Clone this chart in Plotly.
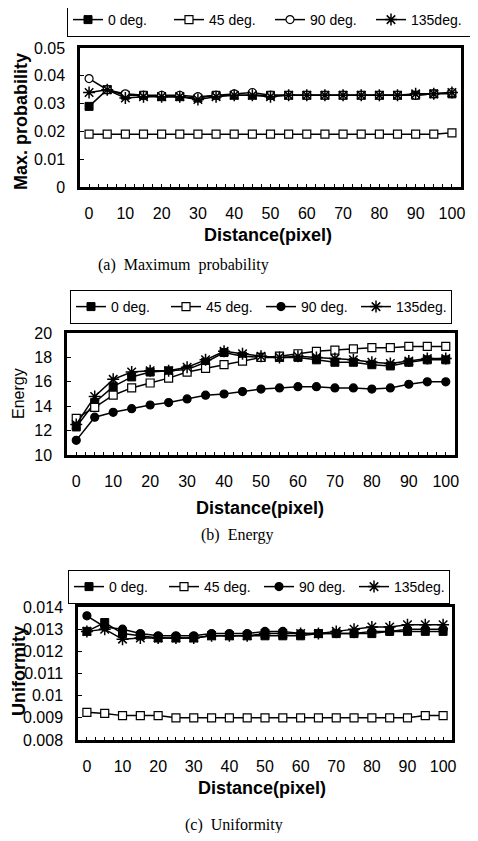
import plotly.graph_objects as go

# ---------------- data ----------------
distance = [0, 5, 10, 15, 20, 25, 30, 35, 40, 45, 50, 55, 60, 65, 70, 75, 80, 85, 90, 95, 100]
series_names = ["0 deg.", "45 deg.", "90 deg.", "135deg."]

maxprob_0 = [0.029, 0.035, 0.033, 0.033, 0.0325, 0.0325, 0.032, 0.033, 0.033, 0.033, 0.033,
             0.033, 0.033, 0.033, 0.033, 0.033, 0.033, 0.033, 0.033, 0.0335, 0.0335]
maxprob_45 = [0.019, 0.019, 0.019, 0.019, 0.019, 0.019, 0.019, 0.019, 0.019, 0.019, 0.019,
              0.019, 0.019, 0.019, 0.019, 0.019, 0.019, 0.019, 0.019, 0.019, 0.0195]
maxprob_90 = [0.039, 0.035, 0.0335, 0.033, 0.033, 0.033, 0.0325, 0.033, 0.0335, 0.034, 0.033,
              0.033, 0.033, 0.033, 0.033, 0.033, 0.033, 0.033, 0.033, 0.0335, 0.034]
maxprob_135 = [0.034, 0.035, 0.032, 0.0325, 0.0325, 0.0325, 0.0315, 0.0325, 0.033, 0.033, 0.0325,
               0.033, 0.033, 0.033, 0.033, 0.033, 0.033, 0.033, 0.0335, 0.0335, 0.034]

energy_0 = [12.3, 14.3, 15.6, 16.4, 16.8, 16.9, 17.0, 17.6, 18.4, 18.1, 18.0,
            18.0, 18.0, 17.8, 17.6, 17.6, 17.4, 17.3, 17.6, 17.8, 17.8]
energy_45 = [13.0, 13.9, 14.9, 15.5, 15.9, 16.3, 16.8, 17.1, 17.4, 17.7, 18.0,
             18.1, 18.3, 18.5, 18.6, 18.7, 18.8, 18.8, 18.9, 18.9, 18.9]
energy_90 = [11.2, 13.1, 13.5, 13.8, 14.1, 14.3, 14.6, 14.9, 15.0, 15.2, 15.4,
             15.5, 15.6, 15.6, 15.5, 15.5, 15.4, 15.5, 15.8, 16.0, 16.0]
energy_135 = [12.5, 14.8, 16.2, 16.8, 16.9, 16.9, 17.2, 17.8, 18.5, 18.3, 18.1,
              18.0, 18.1, 18.0, 17.9, 17.8, 17.6, 17.5, 17.7, 17.9, 17.9]

unif_0 = [0.0129, 0.0133, 0.0128, 0.0127, 0.0126, 0.0126, 0.0126, 0.0127, 0.0127, 0.0127, 0.0127,
          0.0127, 0.0127, 0.0128, 0.0128, 0.0128, 0.0128, 0.0129, 0.0129, 0.0129, 0.0129]
unif_45 = [0.00925, 0.0092, 0.0091, 0.0091, 0.0091, 0.0090, 0.0090, 0.0090, 0.0090, 0.0090, 0.0090,
           0.0090, 0.0090, 0.0090, 0.0090, 0.0090, 0.0090, 0.0090, 0.0090, 0.0091, 0.0091]
unif_90 = [0.0136, 0.0131, 0.0130, 0.0128, 0.0127, 0.0127, 0.0127, 0.0128, 0.0128, 0.0128, 0.0129,
           0.0129, 0.0128, 0.0128, 0.0128, 0.0128, 0.0129, 0.0129, 0.0130, 0.0130, 0.0130]
unif_135 = [0.0129, 0.0130, 0.01255, 0.0126, 0.0126, 0.0126, 0.0126, 0.0127, 0.0127, 0.0127, 0.0128,
            0.0128, 0.0128, 0.0128, 0.0129, 0.0130, 0.0131, 0.0131, 0.0132, 0.0132, 0.0132]

x_ticks = [0, 10, 20, 30, 40, 50, 60, 70, 80, 90, 100]

# page body has an 8px margin: the figure is drawn 8px in from the window corner
OFF = 8
W, H = 478 - 2 * OFF, 841 - 2 * OFF


def px(x):
    return (x - OFF) / W


def py(y):
    return 1 - (y - OFF) / H


panels = [
    dict(series=[maxprob_0, maxprob_45, maxprob_90, maxprob_135], open90=True,
         xdom=[px(80), px(461)], ydom=[py(187), py(48)], yrange=[0, 0.05], dtick=0.01,
         legend=dict(x=px(67), y=py(3), entrywidth=56)),
    dict(series=[energy_0, energy_45, energy_90, energy_135], open90=False,
         xdom=[px(67), px(455)], ydom=[py(455), py(333)], yrange=[10, 20], dtick=2,
         legend=dict(x=px(70), y=py(290), entrywidth=50)),
    dict(series=[unif_0, unif_45, unif_90, unif_135], open90=False,
         xdom=[px(78), px(452)], ydom=[py(740), py(607)], yrange=[0.008, 0.014], dtick=0.001,
         legend=dict(x=px(68), y=py(570), entrywidth=50)),
]

fig = go.Figure()
FONT = "Liberation Sans, Arial, sans-serif"

for i, p in enumerate(panels):
    sfx = "" if i == 0 else str(i + 1)
    leg = "legend" if i == 0 else "legend" + str(i + 1)
    styles = [
        dict(symbol="square", size=8, color="black", line=dict(color="black", width=1)),
        dict(symbol="square", size=8, color="white", line=dict(color="black", width=1.2)),
        dict(symbol="circle", size=8, color="white" if p["open90"] else "black",
             line=dict(color="black", width=1.2)),
        dict(symbol="asterisk-open", size=10, color="black", line=dict(color="black", width=1.5)),
    ]
    for name, vals, st in zip(series_names, p["series"], styles):
        fig.add_trace(go.Scatter(
            x=distance, y=vals, name=name, mode="lines+markers",
            line=dict(color="black", width=1.5), marker=st,
            xaxis="x" + sfx, yaxis="y" + sfx, legend=leg, cliponaxis=False))

    fig.layout["xaxis" + sfx] = dict(
        domain=p["xdom"], anchor="y" + sfx, range=[-2.5, 102.5],
        tickmode="array", tickvals=x_ticks, ticks="inside", ticklen=3, tickwidth=1,
        tickcolor="black", minor=dict(dtick=2.5, tick0=0, ticks="inside", ticklen=3,
                                      tickcolor="black", tickwidth=1),
        showline=True, linecolor="black", linewidth=2.5, mirror=True,
        showgrid=False, zeroline=False, ticklabelstandoff=10,
        tickfont=dict(family=FONT, size=16, color="black"))
    fig.layout["yaxis" + sfx] = dict(
        domain=p["ydom"], anchor="x" + sfx, range=p["yrange"], dtick=p["dtick"],
        tick0=p["yrange"][0], ticks="inside", ticklen=4, tickwidth=1, tickcolor="black",
        showline=True, linecolor="black", linewidth=2.5, mirror=True,
        showgrid=False, zeroline=False, ticklabelstandoff=9,
        tickfont=dict(family=FONT, size=16, color="black"))
    fig.layout[leg] = dict(
        orientation="h", x=p["legend"]["x"], y=p["legend"]["y"], xanchor="left", yanchor="top",
        bordercolor="black", borderwidth=1, bgcolor="white", entrywidth=p["legend"]["entrywidth"],
        font=dict(family=FONT, size=14, color="black"), traceorder="normal",
        itemclick=False, itemdoubleclick=False)

annotations = [
    # y-axis titles
    dict(text="Max. probability", x=px(21), y=py(122), textangle=-90,
         font=dict(family=FONT, size=18, color="black", weight="bold")),
    dict(text="Energy", x=px(18), y=py(394), textangle=-90,
         font=dict(family=FONT, size=16, color="black")),
    dict(text="Uniformity", x=px(19), y=py(671), textangle=-90,
         font=dict(family=FONT, size=18, color="black", weight="bold")),
    # x-axis titles
    dict(text="Distance(pixel)", x=px(268), y=py(235),
         font=dict(family=FONT, size=18, color="black", weight="bold")),
    dict(text="Distance(pixel)", x=px(260), y=py(508),
         font=dict(family=FONT, size=18, color="black", weight="bold")),
    dict(text="Distance(pixel)", x=px(262), y=py(788),
         font=dict(family=FONT, size=18, color="black", weight="bold")),
    # captions
    dict(text="(a)  Maximum  probability", x=px(183), y=py(265),
         font=dict(family="Liberation Serif, Times New Roman, serif", size=16, color="black")),
    dict(text="(b)  Energy", x=px(237), y=py(535),
         font=dict(family="Liberation Serif, Times New Roman, serif", size=16, color="black")),
    dict(text="(c)  Uniformity", x=px(234), y=py(825),
         font=dict(family="Liberation Serif, Times New Roman, serif", size=16, color="black")),
]
for a in annotations:
    a.update(xref="paper", yref="paper", showarrow=False, xanchor="center", yanchor="middle")

fig.update_layout(
    width=W, height=H, margin=dict(l=0, r=0, t=0, b=0, pad=0, autoexpand=False),
    paper_bgcolor="white", plot_bgcolor="white",
    annotations=annotations, showlegend=True,
    font=dict(family=FONT, color="black"))

fig.write_html("out.html")
